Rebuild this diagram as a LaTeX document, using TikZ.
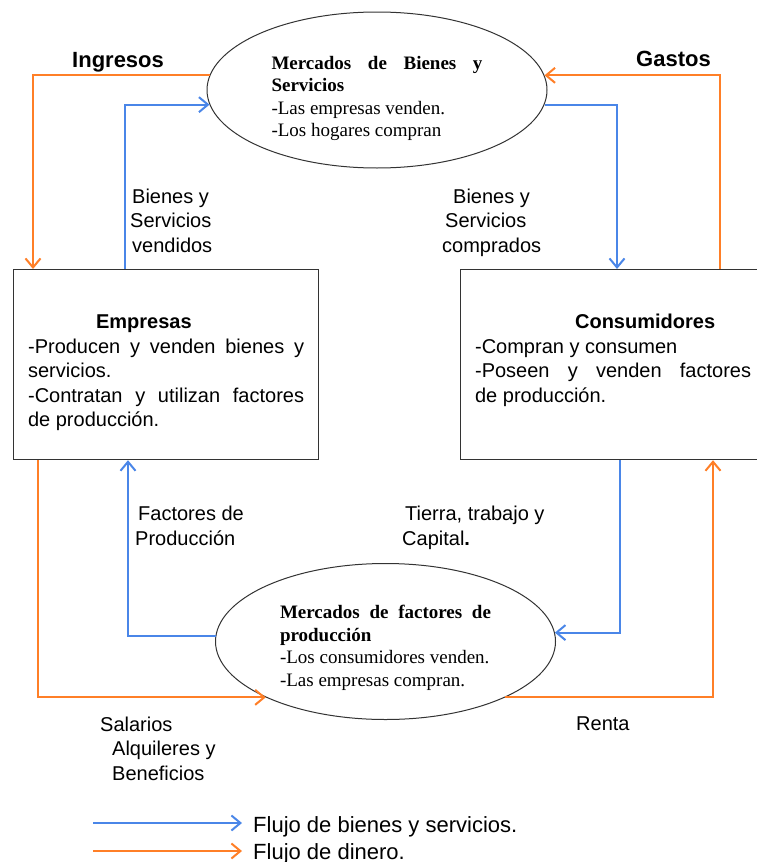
\documentclass[tikz,border=0pt]{standalone}
\usepackage{fontspec}
\setmainfont{Liberation Sans}
\newfontfamily\romana{Liberation Serif}
\usetikzlibrary{arrows.meta,shapes.geometric}
\definecolor{azulflujo}{RGB}{74,134,232}
\definecolor{naranjaflujo}{RGB}{255,127,39}
\hyphenpenalty=10000
\tolerance=10000
\hbadness=10000
\begin{document}
\begin{tikzpicture}[x=1pt, y=-1pt,
flujobienes/.style={draw=azulflujo, line width=2pt, -{Straight Barb[length=9pt,width=15pt]}},
flujodinero/.style={draw=naranjaflujo, line width=2pt, -{Straight Barb[length=9pt,width=15pt]}},
sector/.style={draw=black!80, line width=1.2pt, rectangle, anchor=north west, minimum width=305pt, minimum height=190pt, text width=276pt, align=justify, font=\fontsize{20}{24.5}\selectfont},
mercado/.style={draw=black!80, line width=1pt, ellipse, minimum width=340pt, minimum height=156pt, text width=211pt, align=justify, font=\romana\fontsize{19}{22.5}\selectfont},
rotulo/.style={anchor=base west, inner sep=0pt, align=left, font=\fontsize{20}{24.5}\selectfont},
titulo/.style={anchor=base west, inner sep=0pt, font=\bfseries\fontsize{22}{24}\selectfont}]
\useasboundingbox[fill=white] (0,0) rectangle (757,862);

\node[mercado] (bienes) at (377,90) {\rule{0pt}{30pt}\textbf{Mercados de Bienes y\linebreak Servicios}\\-Las empresas venden.\\-Los hogares compran};
\node[mercado] (factores) at (385.5,641.5) {\rule{0pt}{26pt}\textbf{Mercados de factores de\linebreak producción}\\-Los consumidores venden.\\-Las empresas compran.};
\node[sector] (empresas) at (13,269) {\rule{0pt}{30pt}\hspace*{68pt}\textbf{Empresas}\\-Producen y venden bienes y servicios.\\-Contratan y utilizan factores\linebreak de producción.};
\node[sector] (consumidores) at (460,269) {\rule{0pt}{26pt}\hspace*{100pt}\textbf{Consumidores}\\-Compran y consumen\\-Poseen y venden factores\linebreak de producción.\\\mbox{}};

\draw[flujodinero] (bienes.175) -| ([xshift=20pt]empresas.north west);
\draw[flujobienes] ([xshift=112pt]empresas.north west) |- (bienes.185);
\draw[flujobienes] (bienes.355) -| ([xshift=157pt]consumidores.north west);
\draw[flujodinero] ([xshift=260pt]consumidores.north west) |- (bienes.5);
\draw[flujobienes] ([xshift=160pt]consumidores.south west) |- (factores.3);
\draw[flujodinero] (factores.335) -| ([xshift=253pt]consumidores.south west);
\draw[flujobienes] (factores.178) -| ([xshift=115pt]empresas.south west);
\draw[flujodinero] ([xshift=25pt]empresas.south west) |- (factores.205);

\node[titulo] (ingresos) at (72,67) {Ingresos};
\node[titulo] (gastos) at (636,66) {Gastos};
\node[rotulo] (vendidos) at (132,252) {Bienes y\\\hspace*{-2pt}Servicios\\vendidos};
\node[rotulo] (comprados) at (453,252) {Bienes y\\\hspace*{-8pt}Servicios\\\hspace*{-11pt}comprados};
\node[rotulo] (produccion) at (138,545) {Factores de\\\hspace*{-3pt}Producción};
\node[rotulo] (tierra) at (405,545) {Tierra, trabajo y\\\hspace*{-3pt}Capital\textbf{.}};
\node[rotulo] (salarios) at (100,780) {Salarios\\\hspace*{12pt}Alquileres y\\\hspace*{12pt}Beneficios};
\node[rotulo] (renta) at (576,730) {Renta};

\coordinate (leyb1) at (93,823);
\coordinate (leyb2) at (242,823);
\coordinate (leyd1) at (93,851);
\coordinate (leyd2) at (242,851);
\draw[flujobienes] (leyb1) -- (leyb2);
\draw[flujodinero] (leyd1) -- (leyd2);
\node[rotulo, font=\fontsize{22}{24}\selectfont] (leyenda1) at (253,832) {Flujo de bienes y servicios.};
\node[rotulo, font=\fontsize{22}{24}\selectfont] (leyenda2) at (253,859) {Flujo de dinero.};
\end{tikzpicture}
\end{document}
